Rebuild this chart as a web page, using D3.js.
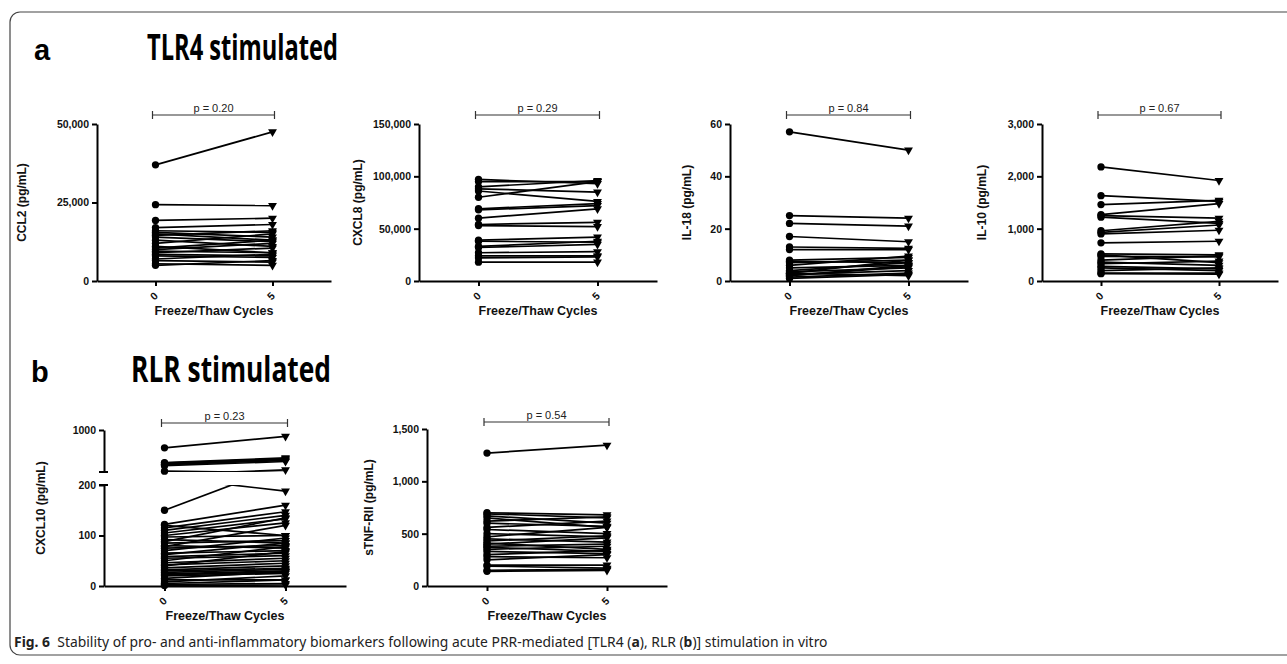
<!DOCTYPE html>
<html>
<head>
<meta charset="utf-8">
<script src="https://cdnjs.cloudflare.com/ajax/libs/d3/7.8.5/d3.min.js"></script>
<style>
	body{margin:0;background:#fff;}
	svg text{font-family:"Liberation Sans", Arial, sans-serif;}
</style>
</head>
<body>
<svg id="fig" width="1287" height="664"></svg>
<script>
// freeze/thaw cycle categories
const cycles = ["0", "5"];

// TLR4 stimulated
const ccl2Day0 = [37000,24300,19300,17000,16000,15500,15000,14500,14000,13000,12000,11000,10500,10000,9500,9000,8500,8000,7000,6500,5500,5000];
const ccl2Day5 = [47500,24000,20000,18000,15500,14000,13000,16000,12500,11000,15000,9000,13000,12000,9000,10500,8000,7500,8500,6000,5000,6500];
const ccl2Ticks = [0, 25000, 50000];

const cxcl8Day0 = [97000,95000,90000,88000,86000,80000,69000,68000,60000,54000,53000,39000,38000,33000,32000,27000,24000,22000,18000];
const cxcl8Day5 = [93000,95000,96000,85000,76000,95000,74000,72000,69000,56000,52000,42000,37000,38000,35000,28000,24000,23000,18000];
const cxcl8Ticks = [0, 50000, 100000, 150000];

const il18Day0 = [57,25,22,17,13,12,8,7.5,7,6,5,4,3.5,3,2.5,2,1.5,1,2,3];
const il18Day5 = [50,24,21,15,12.5,12,9,7,8,9.5,6,7,5,8,4,6,3,2.5,5.5,2];
const il18Ticks = [0, 20, 40, 60];

const il10Day0 = [2180,1630,1460,1270,1250,1220,960,930,900,730,520,500,470,400,360,330,280,250,200,150,140];
const il10Day5 = [1920,1520,1540,1480,1200,1100,1140,1070,970,760,500,350,460,480,300,380,230,200,250,150,130];
const il10Ticks = [0, 1000, 2000, 3000];

// RLR stimulated
const cxcl10Day0 = [660,380,370,350,340,320,215,150,122,120,115,110,105,100,97,92,88,85,80,78,75,70,65,62,58,55,50,46,42,40,36,32,30,27,24,22,20,15,12,8,5,3,1];
const cxcl10Day5 = [880,470,450,440,420,400,188,240,160,100,147,140,133,125,100,85,135,90,75,120,80,95,70,85,65,60,78,55,50,68,45,40,35,33,30,28,25,28,12,20,12,5,2];
const cxcl10LowTicks = [0, 100, 200];
const cxcl10HighTicks = [1000];

const tnfDay0 = [1270,700,690,670,650,620,600,560,540,500,470,450,430,410,400,380,370,350,330,300,280,250,200,190,150,140];
const tnfDay5 = [1345,680,650,600,560,660,570,620,500,470,560,420,480,350,460,400,330,380,310,340,270,300,200,170,160,150];
const tnfTicks = [0, 500, 1000, 1500];

const pValues = ["p = 0.20", "p = 0.29", "p = 0.84", "p = 0.67", "p = 0.23", "p = 0.54"];

// layout of each small plot
const panels = [
	{label:"CCL2 (pg/mL)", p:pValues[0], day0:ccl2Day0, day5:ccl2Day5, ticks:ccl2Ticks, axisX:97, step:117, top:124, bottom:281, labelX:22, bracketY:115},
	{label:"CXCL8 (pg/mL)", p:pValues[1], day0:cxcl8Day0, day5:cxcl8Day5, ticks:cxcl8Ticks, axisX:419, step:119, top:124, bottom:281, labelX:358, bracketY:115},
	{label:"IL-18 (pg/mL)", p:pValues[2], day0:il18Day0, day5:il18Day5, ticks:il18Ticks, axisX:730, step:119, top:124, bottom:281, labelX:687, bracketY:115},
	{label:"IL-10 (pg/mL)", p:pValues[3], day0:il10Day0, day5:il10Day5, ticks:il10Ticks, axisX:1042, step:118, top:124, bottom:281, labelX:982, bracketY:115},
	{label:"CXCL10 (pg/mL)", p:pValues[4], day0:cxcl10Day0, day5:cxcl10Day5, ticks:cxcl10LowTicks, axisX:104, step:121, top:485, bottom:586, labelX:41, bracketY:423,
		broken:{ticks:cxcl10HighTicks, min:200, top:430, bottom:472}},
	{label:"sTNF-RII (pg/mL)", p:pValues[5], day0:tnfDay0, day5:tnfDay5, ticks:tnfTicks, axisX:427, step:120, top:429, bottom:586, labelX:369, bracketY:422}
];

const svg = d3.select("#fig");
let clipCount = 0;

function styleAxis(g){
	g.select(".domain").attr("stroke", "#000").attr("stroke-width", 2);
	g.selectAll(".tick line").attr("stroke", "#000").attr("stroke-width", 2);
	g.selectAll(".tick text").attr("font-size", "10.5px").attr("font-weight", "bold").attr("fill", "#111");
}

function drawPanel(cfg){
	let g = svg.append("g");
	let pairs = cfg.day0.map((v, i) => [v, cfg.day5[i]]);

	let x = d3.scalePoint()
		.domain(cycles)
		.range([cfg.axisX, cfg.axisX + 2*cfg.step])
		.padding(0.5);
	let y = d3.scaleLinear()
		.domain([0, d3.max(cfg.ticks)])
		.range([cfg.bottom, cfg.top]);

	// scales list: one normally, two for the broken axis
	let segs = [{scale:y, y0:cfg.top, y1:cfg.bottom + 20}];
	let yUp = null;
	if (cfg.broken){
		yUp = d3.scaleLinear()
			.domain([cfg.broken.min, d3.max(cfg.broken.ticks)])
			.range([cfg.broken.bottom, cfg.broken.top]);
		segs.push({scale:yUp, y0:cfg.broken.top - 10, y1:cfg.broken.bottom});
	}
	let yOf = v => (cfg.broken && v > cfg.broken.min) ? yUp(v) : y(v);

	// paired lines
	for (let s of segs){
		let id = "clip" + (clipCount++);
		svg.append("clipPath").attr("id", id)
			.append("rect")
			.attr("x", cfg.axisX).attr("y", s.y0)
			.attr("width", 2*cfg.step).attr("height", s.y1 - s.y0);
		let lineGen = d3.line()
			.x((d, i) => x(cycles[i]))
			.y(d => s.scale(d));
		g.append("g")
			.attr("clip-path", cfg.broken ? "url(#" + id + ")" : null)
			.selectAll("path")
			.data(pairs)
			.join("path")
			.attr("d", d => lineGen(d))
			.attr("fill", "none")
			.attr("stroke", "#000")
			.attr("stroke-width", 1.7);
	}

	// markers
	let circ = d3.symbol(d3.symbolCircle, 42);
	let tri = d3.symbol(d3.symbolTriangle, 34);
	g.append("g").selectAll("path")
		.data(cfg.day0)
		.join("path")
		.attr("d", circ)
		.attr("transform", d => "translate(" + x(cycles[0]) + "," + yOf(d) + ")");
	g.append("g").selectAll("path")
		.data(cfg.day5)
		.join("path")
		.attr("d", tri)
		.attr("transform", d => "translate(" + x(cycles[1]) + "," + yOf(d) + ") rotate(180)");

	// y axis
	let yAxis = g.append("g")
		.attr("transform", "translate(" + cfg.axisX + ",0)")
		.call(d3.axisLeft(y).tickValues(cfg.ticks).tickSize(5).tickSizeOuter(0).tickFormat(d3.format(",")));
	styleAxis(yAxis);
	if (cfg.broken){
		let upAxis = g.append("g")
			.attr("transform", "translate(" + cfg.axisX + ",0)")
			.call(d3.axisLeft(yUp).tickValues(cfg.broken.ticks).tickSize(5).tickSizeOuter(0).tickFormat(d => d));
		styleAxis(upAxis);
		for (let yy of [cfg.broken.bottom, cfg.top]){
			g.append("line")
				.attr("x1", cfg.axisX - 5).attr("x2", cfg.axisX + 4)
				.attr("y1", yy).attr("y2", yy)
				.attr("stroke", "#000").attr("stroke-width", 2);
		}
	}

	// x axis
	let xAxis = g.append("g")
		.attr("transform", "translate(0," + cfg.bottom + ")")
		.call(d3.axisBottom(x).tickSize(5).tickSizeOuter(0));
	styleAxis(xAxis);
	xAxis.selectAll(".tick text")
		.attr("x", 0).attr("y", 0).attr("dy", "0.35em")
		.attr("text-anchor", "middle")
		.attr("transform", "translate(-2,15) rotate(-45)");

	g.append("text")
		.attr("x", (x(cycles[0]) + x(cycles[1]))/2)
		.attr("y", cfg.bottom + 34)
		.attr("text-anchor", "middle")
		.attr("font-size", "12.5px")
		.attr("font-weight", "bold")
		.attr("fill", "#111")
		.text("Freeze/Thaw Cycles");

	let midY = cfg.broken ? (cfg.broken.top + cfg.bottom)/2 : (cfg.top + cfg.bottom)/2;
	g.append("text")
		.attr("transform", "translate(" + cfg.labelX + "," + midY + ") rotate(-90)")
		.attr("dy", "0.35em")
		.attr("text-anchor", "middle")
		.attr("font-size", "12px")
		.attr("font-weight", "bold")
		.attr("fill", "#111")
		.text(cfg.label);

	// significance bracket
	let bx0 = x(cycles[0]) - 3, bx1 = x(cycles[1]) + 2, by = cfg.bracketY;
	g.append("path")
		.attr("d", "M" + bx0 + "," + (by-4) + "V" + (by+4) + "M" + bx0 + "," + by + "H" + bx1 + "M" + bx1 + "," + (by-4) + "V" + (by+4))
		.attr("fill", "none")
		.attr("stroke", "#333")
		.attr("stroke-width", 1.2);
	g.append("text")
		.attr("x", (bx0 + bx1)/2)
		.attr("y", by - 3)
		.attr("text-anchor", "middle")
		.attr("font-size", "11px")
		.attr("fill", "#222")
		.text(cfg.p);
}

// frame
svg.append("rect")
	.attr("x", 10).attr("y", 12)
	.attr("width", 1300).attr("height", 643)
	.attr("rx", 10)
	.attr("fill", "none")
	.attr("stroke", "#444")
	.attr("stroke-width", 1.2);

// section headers
svg.append("text").attr("x", 34).attr("y", 60)
	.attr("font-size", "29px").attr("font-weight", "bold").text("a");
svg.append("text").attr("x", 147).attr("y", 60)
	.style("font-family", "'Open Sans', sans-serif")
	.attr("font-size", "35px").attr("font-weight", "bold")
	.attr("textLength", 191).attr("lengthAdjust", "spacingAndGlyphs")
	.text("TLR4 stimulated");
svg.append("text").attr("x", 31).attr("y", 382)
	.attr("font-size", "29px").attr("font-weight", "bold").text("b");
svg.append("text").attr("x", 131).attr("y", 382)
	.style("font-family", "'Open Sans', sans-serif")
	.attr("font-size", "35px").attr("font-weight", "bold")
	.attr("textLength", 200).attr("lengthAdjust", "spacingAndGlyphs")
	.text("RLR stimulated");

for (let p of panels)
	drawPanel(p);

// caption, squeezed horizontally to the reference width
let capG = svg.append("g");
let cap = capG.append("text")
	.attr("x", 0).attr("y", 0)
	.style("font-family", "'Noto Sans', sans-serif")
	.attr("font-size", "15px")
	.attr("fill", "#222");
cap.append("tspan").attr("font-weight", "bold").text("Fig. 6");
cap.append("tspan").text("\u00a0 Stability of pro- and anti-inflammatory biomarkers following acute PRR-mediated [TLR4 (");
cap.append("tspan").attr("font-weight", "bold").text("a");
cap.append("tspan").text("), RLR (");
cap.append("tspan").attr("font-weight", "bold").text("b");
cap.append("tspan").text(")] stimulation in vitro");
let capW = cap.node().getComputedTextLength();
capG.attr("transform", "translate(14,647) scale(" + (814/capW) + ",1)");
</script>
</body>
</html>
